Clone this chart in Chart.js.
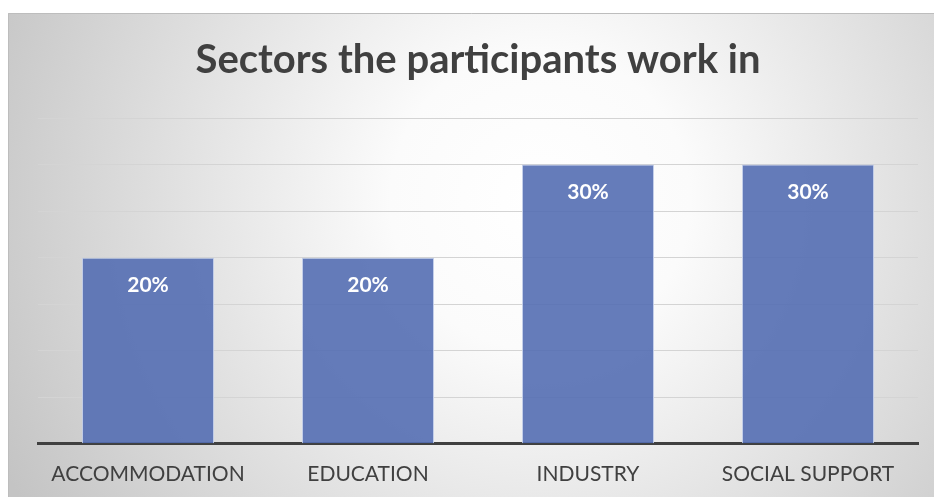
<!DOCTYPE html>
<html>
<head>
<meta charset="utf-8">
<script src="https://cdn.jsdelivr.net/npm/chart.js@4/dist/chart.umd.min.js"></script>
<style>
  html, body { margin: 0; padding: 0; background: #ffffff; }
  #wrap { position: relative; width: 934px; height: 497px; }
</style>
</head>
<body>
<div id="wrap"><canvas id="chart" width="934" height="497"></canvas></div>
<script>
const sectors = ['ACCOMMODATION', 'EDUCATION', 'INDUSTRY', 'SOCIAL SUPPORT'];
const shares = [20, 20, 30, 30];
const chartTitle = 'Sectors the participants work in';

const FONT = 'Lato, "Open Sans", "DejaVu Sans", sans-serif';
const TEXT = '#404040';

// Grey radial panel behind the whole chart
const panelBackground = {
  id: 'panelBackground',
  beforeDraw(chart) {
    const ctx = chart.ctx;
    const x0 = 8, y0 = 13, w = chart.width - x0, h = chart.height - y0;
    ctx.save();
    const g = ctx.createRadialGradient(540, 200, 0, 540, 200, 600);
    g.addColorStop(0, '#ffffff');
    g.addColorStop(0.25, '#fbfbfb');
    g.addColorStop(1, '#c4c4c4');
    ctx.fillStyle = g;
    ctx.fillRect(x0, y0, w, h);
    ctx.strokeStyle = '#bdbdbd';
    ctx.lineWidth = 1;
    ctx.beginPath();
    ctx.moveTo(x0 + 0.5, chart.height);
    ctx.lineTo(x0 + 0.5, y0 + 0.5);
    ctx.lineTo(chart.width, y0 + 0.5);
    ctx.stroke();
    ctx.restore();
  }
};

// Percentage labels placed inside the top of each bar
const barLabels = {
  id: 'barLabels',
  afterDatasetsDraw(chart) {
    const ctx = chart.ctx;
    const meta = chart.getDatasetMeta(0);
    ctx.save();
    ctx.fillStyle = '#ffffff';
    ctx.font = 'bold 21px ' + FONT;
    ctx.textAlign = 'center';
    ctx.textBaseline = 'middle';
    meta.data.forEach((bar, i) => {
      ctx.fillText(shares[i] + '%', bar.x, bar.y + 28);
    });
    ctx.restore();
  }
};

new Chart(document.getElementById('chart'), {
  type: 'bar',
  data: {
    labels: sectors,
    datasets: [{
      data: shares,
      backgroundColor: 'rgba(84,110,178,0.9)',
      borderColor: 'rgba(190,202,232,0.9)',
      borderWidth: 1,
      categoryPercentage: 0.6,
      barPercentage: 1.0
    }]
  },
  options: {
    responsive: false,
    animation: false,
    layout: { padding: { left: 38, right: 16, top: 13, bottom: -8 } },
    plugins: {
      legend: { display: false },
      tooltip: { enabled: false },
      title: {
        display: true,
        text: chartTitle,
        color: TEXT,
        font: { family: FONT, size: 40, weight: 'bold' },
        padding: { top: 23, bottom: 34 }
      }
    },
    scales: {
      x: {
        grid: { display: false, drawTicks: false },
        border: { display: true, color: '#404040', width: 3 },
        ticks: {
          color: TEXT,
          font: { family: FONT, size: 21 },
          padding: 18,
          maxRotation: 0
        }
      },
      y: {
        min: 0,
        max: 35,
        ticks: { display: false, stepSize: 5 },
        grid: { color: '#d4d4d4', lineWidth: 1, drawTicks: false },
        border: { display: false }
      }
    }
  },
  plugins: [panelBackground, barLabels]
});
</script>
</body>
</html>
